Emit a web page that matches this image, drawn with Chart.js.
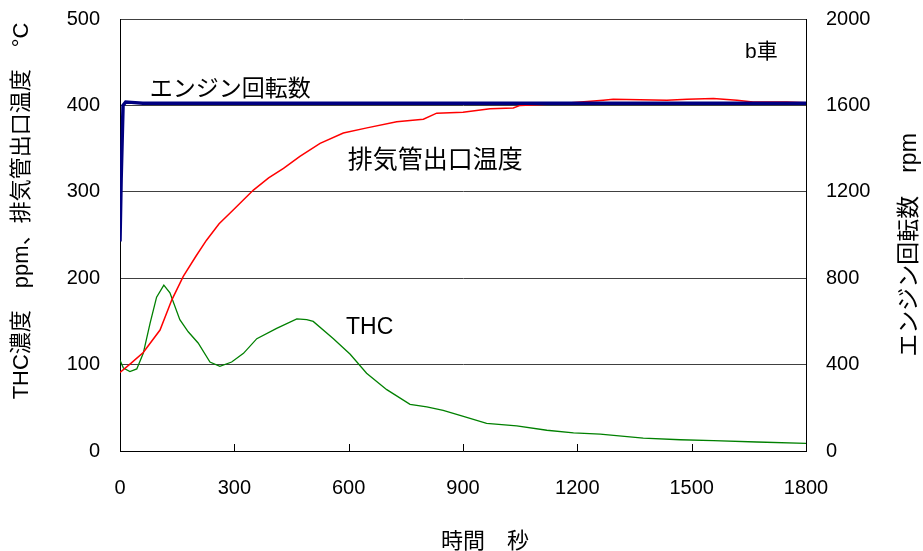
<!DOCTYPE html>
<html>
<head>
<meta charset="utf-8">
<script src="https://cdn.jsdelivr.net/npm/chart.js@4"></script>
<style>
  body { margin: 0; background: #fff; }
  #chart { display: block; }
</style>
</head>
<body>
<canvas id="chart" width="923" height="551"></canvas>
<script>
// data
const tempTime = [0, 30, 61, 105, 136, 166, 200, 227, 260, 297, 350, 390, 429, 472, 525, 586, 648, 726, 796, 831, 900, 971, 1032, 1050, 1150, 1268, 1294, 1435, 1488, 1557, 1619, 1661, 1750, 1800];
const tempVals = [91, 102, 114, 140, 175, 202, 226, 244, 263, 279, 302, 316, 327, 341, 356, 368, 374, 381, 384, 391, 392, 396, 397, 400, 402, 406, 407, 406, 407, 408, 406, 404, 404, 403];

const thcTime = [0, 9, 26, 44, 61, 79, 96, 115, 131, 157, 179, 205, 236, 262, 293, 324, 359, 411, 464, 490, 507, 560, 604, 647, 700, 761, 805, 848, 901, 962, 1041, 1120, 1190, 1260, 1373, 1470, 1557, 1671, 1800];
const thcVals = [105, 96, 92, 95, 113, 148, 178, 192, 183, 152, 138, 125, 103, 98, 103, 113, 130, 142, 153, 152, 150, 130, 112, 90, 71, 54, 51, 47, 40, 32, 29, 24, 21, 19.5, 15, 13, 12, 10.4, 8.8];

const rpmTime = [0, 3, 8, 15, 30, 60, 1800];
const rpmVals = [970, 1260, 1600, 1616, 1614, 1610, 1610];

const xTicks = [0, 300, 600, 900, 1200, 1500, 1800];

const FONT = "'Liberation Sans', 'Noto Sans CJK JP', sans-serif";
const JP = "'Noto Sans CJK JP', sans-serif";

const pts = (xs, ys) => xs.map((x, i) => ({ x: x, y: ys[i] }));
const plain = v => String(v);
const fitY = w => s => { s.width = w; s.paddingTop = 0; s.paddingBottom = 0; };

// labels and axis titles drawn on the canvas
const extras = {
  id: 'extras',
  afterDatasetsDraw(chart) {
    const { ctx, chartArea, scales } = chart;
    const x = scales.x, y = scales.y;
    ctx.save();
    // inward tick marks on the time axis
    ctx.strokeStyle = '#000';
    ctx.lineWidth = 1;
    xTicks.slice(1, -1).forEach(v => {
      const px = Math.round(x.getPixelForValue(v)) + 0.5;
      ctx.beginPath();
      ctx.moveTo(px, chartArea.bottom);
      ctx.lineTo(px, chartArea.bottom - 7);
      ctx.stroke();
    });
    ctx.fillStyle = '#000';
    ctx.textAlign = 'center';
    ctx.textBaseline = 'middle';
    ctx.font = '23px ' + JP;
    ctx.fillText('エンジン回転数', x.getPixelForValue(289), y.getPixelForValue(421));
    ctx.font = '25px ' + JP;
    ctx.fillText('排気管出口温度', x.getPixelForValue(827), y.getPixelForValue(339));
    ctx.font = '23px ' + FONT;
    ctx.fillText('THC', x.getPixelForValue(655), y.getPixelForValue(143));
    ctx.font = '21px ' + FONT;
    ctx.fillText('b車', x.getPixelForValue(1683), y.getPixelForValue(461));

    // x title
    ctx.font = '22px ' + JP;
    ctx.fillText('時間　秒', 485, 540);

    // y titles, both reading bottom to top
    ctx.font = '22px ' + FONT;
    ctx.save();
    ctx.translate(22, 211);
    ctx.rotate(-Math.PI / 2);
    ctx.fillText('THC濃度　ppm、排気管出口温度　°C', 0, 0);
    ctx.restore();
    ctx.save();
    ctx.translate(910, 245);
    ctx.rotate(-Math.PI / 2);
    ctx.font = '23px ' + FONT;
    ctx.fillText('エンジン回転数　rpm', 0, 0);
    ctx.restore();
    ctx.restore();
  }
};

new Chart(document.getElementById('chart'), {
  type: 'line',
  data: {
    datasets: [
      {
        label: 'エンジン回転数',
        data: pts(rpmTime, rpmVals),
        yAxisID: 'y2',
        borderColor: '#000080',
        borderWidth: 3.5,
        order: 0
      },
      {
        label: '排気管出口温度',
        data: pts(tempTime, tempVals),
        yAxisID: 'y',
        borderColor: '#ff0000',
        borderWidth: 1.5,
        order: 1
      },
      {
        label: 'THC',
        data: pts(thcTime, thcVals),
        yAxisID: 'y',
        borderColor: '#008000',
        borderWidth: 1.3,
        order: 2
      }
    ]
  },
  options: {
    responsive: false,
    animation: false,
    layout: { padding: { top: 19, left: 0, right: 0, bottom: 0 } },
    elements: { point: { radius: 0 }, line: { tension: 0 } },
    plugins: { legend: { display: false }, tooltip: { enabled: false } },
    scales: {
      x: {
        type: 'linear',
        min: 0, max: 1800,
        afterBuildTicks: s => { s.ticks = xTicks.map(v => ({ value: v })); },
        ticks: { color: '#000', font: { family: FONT, size: 20 }, padding: 25, maxRotation: 0, callback: plain },
        grid: { drawOnChartArea: false, drawTicks: false },
        border: { color: '#000', width: 1 },
        afterFit: s => { s.height = 100; s.paddingLeft = 0; s.paddingRight = 0; }
      },
      y: {
        position: 'left',
        min: 0, max: 500,
        ticks: { stepSize: 100, color: '#000', font: { family: FONT, size: 20 }, padding: 20, callback: plain },
        grid: { color: '#404040', drawTicks: false },
        border: { color: '#000', width: 1 },
        afterFit: fitY(120)
      },
      y2: {
        position: 'right',
        min: 0, max: 2000,
        ticks: { stepSize: 400, color: '#000', font: { family: FONT, size: 20 }, padding: 20, callback: plain },
        grid: { drawOnChartArea: false, drawTicks: false },
        border: { color: '#000', width: 1 },
        afterFit: fitY(117)
      }
    }
  },
  plugins: [extras]
});
</script>
</body>
</html>
